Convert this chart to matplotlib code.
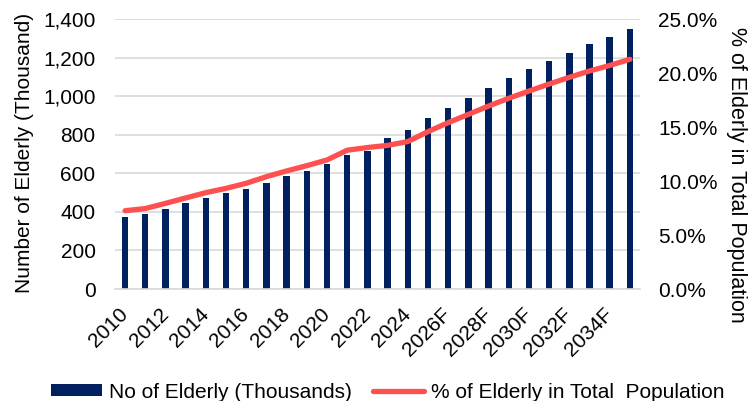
import matplotlib
matplotlib.use("Agg")
import matplotlib.pyplot as plt
import numpy as np
from matplotlib.ticker import FuncFormatter, MultipleLocator

plt.rcParams['font.family'] = ['Liberation Sans', 'DejaVu Sans']

years = ['2010', '2011', '2012', '2013', '2014', '2015', '2016', '2017', '2018',
         '2019', '2020', '2021', '2022', '2023', '2024', '2025F', '2026F', '2027F',
         '2028F', '2029F', '2030F', '2031F', '2032F', '2033F', '2034F', '2035F']
elderly = [372, 387, 417, 446, 472, 496, 520, 551, 584, 614, 650, 694, 714, 783,
           825, 888, 938, 992, 1044, 1094, 1141, 1182, 1223, 1270, 1308, 1347]
pct = [7.25, 7.45, 7.93, 8.43, 8.92, 9.32, 9.79, 10.4, 10.93, 11.42, 11.95, 12.85,
       13.1, 13.3, 13.65, 14.57, 15.4, 16.17, 16.94, 17.66, 18.33, 18.98, 19.6,
       20.19, 20.7, 21.27]
tick_labels = years[::2]

bar_color = '#002060'
line_color = '#FF5050'
text_color = '#000000'
FS = 15

fig = plt.figure(figsize=(7.48, 4.01), dpi=100)
ax = fig.add_axes([0.1537, 0.2793, 0.7019, 0.6733])
x = np.arange(len(years))
bars = ax.bar(x, elderly, width=0.32, color=bar_color, zorder=2,
              label='No of Elderly (Thousands)')
ax.set_ylim(0, 1400)
ax.set_xlim(-0.5, len(years) - 0.5)
ax.yaxis.set_major_locator(MultipleLocator(200))
ax.yaxis.set_major_formatter(FuncFormatter(lambda v, p: f'{int(v):,}'))
ax.grid(axis='y', color='#D9D9D9', linewidth=1.2, zorder=0)
ax.set_axisbelow(True)
for s in ['top', 'right', 'left']:
    ax.spines[s].set_visible(False)
ax.spines['bottom'].set_color('#D9D9D9')
ax.spines['bottom'].set_linewidth(1.2)
ax.tick_params(axis='y', length=0, labelsize=FS, colors=text_color, pad=14)
ax.set_xticks(x[::2])
ax.set_xticklabels(tick_labels, rotation=45, ha='right', va='center',
                   rotation_mode='anchor')
ax.tick_params(axis='x', length=0, labelsize=FS, colors=text_color, pad=16)

ax2 = ax.twinx()
line, = ax2.plot(x, pct, color=line_color, linewidth=3.8, zorder=3,
                 solid_capstyle='round', label='% of Elderly in Total  Population')
ax2.set_ylim(0, 25)
ax2.yaxis.set_major_locator(MultipleLocator(5))
ax2.yaxis.set_major_formatter(FuncFormatter(lambda v, p: f'{v:.1f}%'))
for s in ['top', 'right', 'left', 'bottom']:
    ax2.spines[s].set_visible(False)
ax2.tick_params(axis='y', length=0, labelsize=FS, colors=text_color, pad=13)

fig.text(25 / 748, 1 - 153 / 401, 'Number of Elderly (Thousand)', fontsize=FS,
         color=text_color, rotation=90, ha='center', va='center')
fig.text(736 / 748, 1 - 175 / 401, '% of Elderly in Total Population', fontsize=15.5,
         color=text_color, rotation=270, ha='center', va='center')

fig.legend(handles=[bars, line], loc='center', bbox_to_anchor=(0.518, 0.022),
           ncol=2, frameon=False, fontsize=FS, handlelength=2.45,
           handleheight=0.5, handletextpad=0.35, columnspacing=1.0,
           borderaxespad=0, borderpad=0)

fig.savefig('out.png', dpi=100)
